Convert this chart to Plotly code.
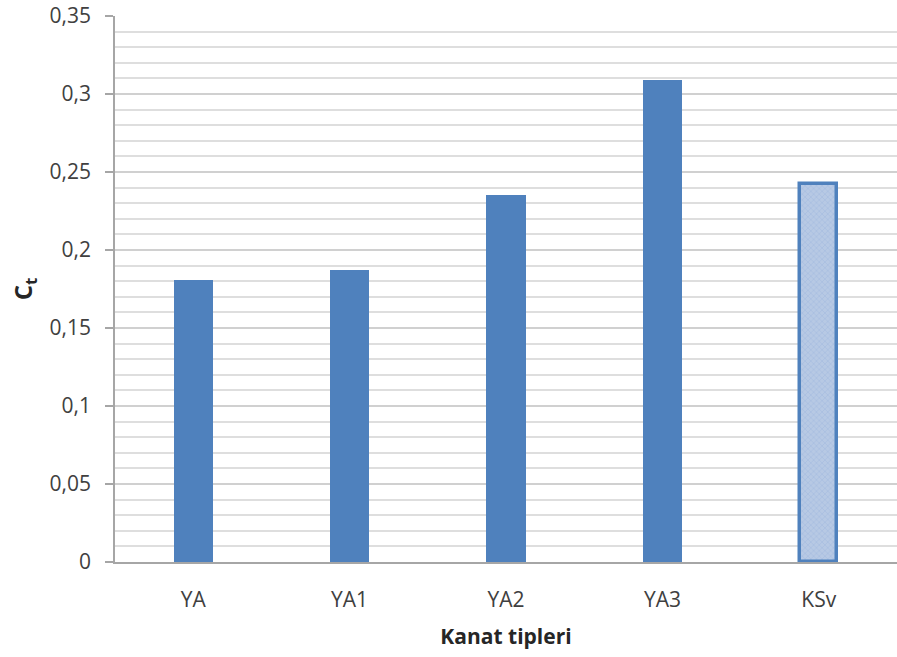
import plotly.graph_objects as go

categories = ["YA", "YA1", "YA2", "YA3", "KSv"]
ct_values = [0.181, 0.187, 0.235, 0.309, 0.242]
y_tick_vals = [0, 0.05, 0.1, 0.15, 0.2, 0.25, 0.3, 0.35]
y_tick_text = ["0", "0,05", "0,1", "0,15", "0,2", "0,25", "0,3", "0,35"]

BLUE = "#4f81bd"
FONT = "Open Sans"

fig = go.Figure()

# Solid bars for the YA family
fig.add_trace(go.Bar(
    x=categories[:4], y=ct_values[:4],
    width=0.25,
    marker=dict(color=BLUE, line=dict(width=0)),
    showlegend=False,
))

# Hatched bar for KSv
fig.add_trace(go.Bar(
    x=categories[4:], y=ct_values[4:],
    width=0.235,
    marker=dict(
        color="#b7c9e4",
        line=dict(color=BLUE, width=3.5),
        pattern=dict(shape="x", fgcolor="#8eaad6", size=4, solidity=0.25, fillmode="overlay"),
    ),
    showlegend=False,
))

fig.update_layout(
    width=897, height=657,
    margin=dict(l=115, r=0, t=16, b=95),
    plot_bgcolor="white", paper_bgcolor="white",
    font=dict(family=FONT, color="#595959", size=21),
    bargap=0,
)

fig.update_xaxes(
    categoryorder="array", categoryarray=categories,
    showline=True, linecolor="#a6a6a6", linewidth=1.5,
    ticks="", showgrid=False,
    tickfont=dict(size=21, color="#404040"),
    ticklabelstandoff=18,
    title=dict(text="<b>Kanat tipleri</b>", font=dict(size=21, color="#262626"), standoff=17),
)

fig.update_yaxes(
    range=[0, 0.35],
    tickvals=y_tick_vals, ticktext=y_tick_text,
    showline=True, linecolor="#a6a6a6", linewidth=1.5,
    ticks="outside", ticklen=8, tickcolor="#a6a6a6", tickwidth=1.5,
    showgrid=True, gridcolor="#d0d0d0", gridwidth=1.5,
    minor=dict(dtick=0.01, showgrid=True, gridcolor="#dedede", gridwidth=1.5, ticks=""),
    zeroline=False,
    tickfont=dict(size=21, color="#404040"),
    ticklabelstandoff=10,
    title=dict(text="<b>C<sub>t</sub></b>", font=dict(size=24, color="#262626"), standoff=10),
)

fig.write_html("out.html")
